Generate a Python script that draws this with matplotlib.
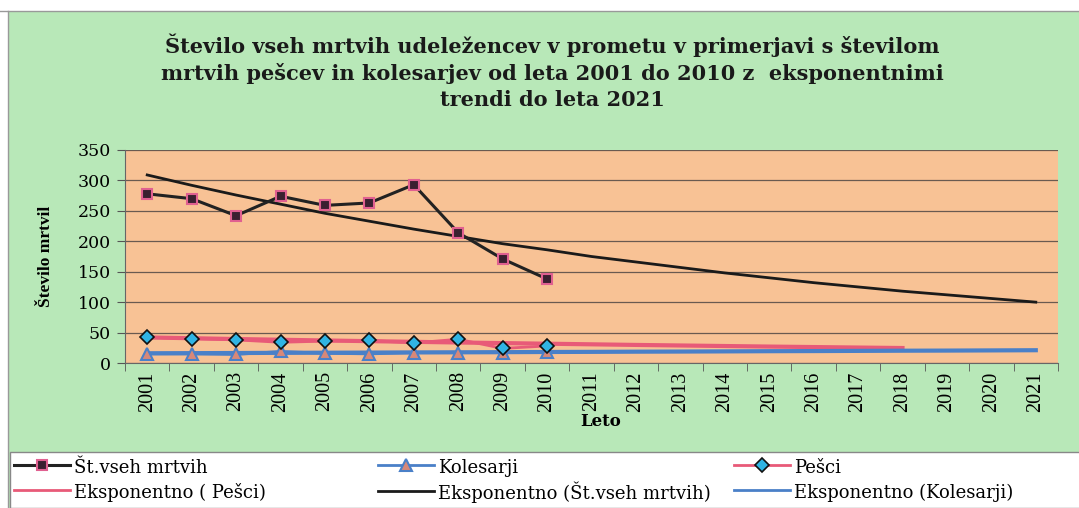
import numpy as np
import matplotlib.pyplot as plt
from matplotlib.patches import Rectangle

# leta
years = [str(y) for y in range(2001, 2022)]
data_years = years[:10]

# podatki 2001-2010
vsi = [278, 270, 242, 274, 259, 263, 293, 214, 171, 138]
pesci = [42, 40, 38, 34, 36, 37, 33, 39, 24, 28]
kolesarji = [15, 15, 14, 19, 16, 15, 17, 17, 17, 18]

# eksponentni trendi (odčitani s slike)
trend_vsi = [309, 292, 276, 261, 246, 233, 220, 208, 196, 186, 175,
             166, 157, 148, 140, 132, 125, 118, 112, 106, 100]
trend_pesci = [42, 40.7, 39.4, 38.2, 37.0, 35.9, 34.8, 33.7, 32.7, 31.7,
               30.7, 29.7, 28.8, 27.9, 27.0, 26.2, 25.4, 24.6]
trend_kol = [16.0, 16.2, 16.4, 16.7, 16.9, 17.1, 17.4, 17.6, 17.8, 18.1,
             18.3, 18.6, 18.8, 19.1, 19.4, 19.6, 19.9, 20.2, 20.4, 20.7, 21.0]

GREEN = '#b8e8b8'
ORANGE = '#f8c295'
TIMES = ['Liberation Serif', 'DejaVu Serif']
WIDE = ['DejaVu Serif']

plt.rcParams['font.family'] = TIMES

W, H = 1079, 508
fig = plt.figure(figsize=(W / 100, H / 100), dpi=100)
fig.patch.set_facecolor(GREEN)

# bela robova zgoraj in levo
fig.patches.append(Rectangle((0, 1 - 11 / H), 1, 11 / H, transform=fig.transFigure,
                             facecolor='white', edgecolor='none', zorder=0))
fig.patches.append(Rectangle((0, 0), 8 / W, 1, transform=fig.transFigure,
                             facecolor='white', edgecolor='none', zorder=0))
fig.add_artist(plt.Line2D([0, 1], [1 - 11 / H] * 2, color='#999999', lw=1))
fig.add_artist(plt.Line2D([8 / W] * 2, [0, 1 - 11 / H], color='#999999', lw=1))

ax = fig.add_axes([125 / W, 1 - 363 / H, (1058 - 125) / W, (363 - 150) / H])
ax.set_facecolor(ORANGE)

x_all = np.arange(len(years))
x_dat = np.arange(len(data_years))

# trendi
ax.plot(np.arange(len(trend_vsi)), trend_vsi, color='#1a1a1a', lw=2, zorder=3)
ax.plot(np.arange(len(trend_pesci)), trend_pesci, color='#e85a78', lw=3, zorder=2)
ax.plot(np.arange(len(trend_kol)), trend_kol, color='#4a80c8', lw=3, zorder=2)

# podatki
l_vsi, = ax.plot(x_dat, vsi, color='#222222', lw=2.2, marker='s', ms=7,
                 mfc='#3a2030', mec='#e06090', mew=1.5, zorder=5)
l_kol, = ax.plot(x_dat, kolesarji, color='#4a80c8', lw=2, marker='^', ms=8,
                 mfc='#d88878', mec='#4a80c8', mew=1.5, zorder=5)
l_pes, = ax.plot(x_dat, pesci, color='#e85a78', lw=2, marker='D', ms=7,
                 mfc='#30b4e4', mec='#111111', mew=1.2, zorder=6)

e_pes, = ax.plot([], [], color='#e85a78', lw=2)
e_vsi, = ax.plot([], [], color='#1a1a1a', lw=2)
e_kol, = ax.plot([], [], color='#4a80c8', lw=2)

ax.set_ylim(0, 350)
ax.set_yticks(range(0, 351, 50))
ax.set_yticklabels([str(v) for v in range(0, 351, 50)], family=WIDE, fontsize=12.5)
ax.set_xlim(-0.5, len(years) - 0.5)
ax.set_xticks(x_all)
ax.set_xticklabels(years, rotation=90, fontsize=14.5)
ax.set_xticks(np.arange(-0.5, len(years), 1), minor=True)
ax.tick_params(axis='x', which='major', length=0, pad=6)
ax.tick_params(axis='x', which='minor', length=6, color='#555555')
ax.tick_params(axis='y', length=6, color='#555555', pad=4)
ax.grid(axis='y', color='#6a5a50', lw=0.9)
ax.set_axisbelow(True)
for s in ['top', 'right']:
    ax.spines[s].set_visible(False)
ax.spines['left'].set_color('#666666')
ax.spines['bottom'].set_color('#666666')

ax.set_ylabel('Število mrtvil', fontsize=12.5, fontweight='bold', labelpad=17)
fig.text(0.557, 1 - 421 / H, 'Leto', family=WIDE, fontsize=12, fontweight='bold',
         ha='center', va='center')

fig.text(552 / W, 1 - 72 / H,
         'Število vseh mrtvih udeležencev v prometu v primerjavi s številom\n'
         'mrtvih pešcev in kolesarjev od leta 2001 do 2010 z  eksponentnimi\n'
         'trendi do leta 2021',
         family=WIDE, fontsize=15, fontweight='bold', ha='center', va='center',
         linespacing=1.35, color='#1a1a1a')

# legenda - bel okvir spodaj
fig.patches.append(Rectangle((10 / W, 0), 1, 56 / H, transform=fig.transFigure,
                             facecolor='white', edgecolor='#888888', lw=1, zorder=1))
columns = [
    (14, [l_vsi, e_pes], ['Št.vseh mrtvih', 'Eksponentno ( Pešci)']),
    (378, [l_kol, e_vsi], ['Kolesarji', 'Eksponentno (Št.vseh mrtvih)']),
    (734, [l_pes, e_kol], ['Pešci', 'Eksponentno (Kolesarji)']),
]
for x0, handles, labels in columns:
    leg = fig.legend(handles, labels, loc='upper left',
                     bbox_to_anchor=(x0 / W, 1 - 457 / H),
                     frameon=False, prop={'family': WIDE, 'size': 13},
                     handlelength=3.1, handletextpad=0.2, handleheight=1.4,
                     borderpad=0, borderaxespad=0, labelspacing=0.22)
    leg.set_zorder(3)

fig.savefig('out.png', dpi=100, facecolor=fig.get_facecolor())
